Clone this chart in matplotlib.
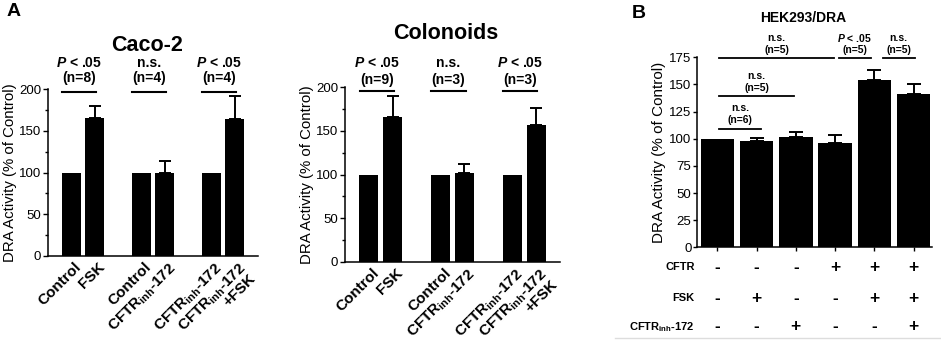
import numpy as np
import matplotlib
matplotlib.use("Agg")
import matplotlib.pyplot as plt
from matplotlib.transforms import ScaledTranslation
from matplotlib.lines import Line2D

plt.rcParams['font.family'] = ['Liberation Sans', 'DejaVu Sans']
plt.rcParams['mathtext.fontset'] = 'custom'
plt.rcParams['mathtext.rm'] = 'Liberation Sans'
plt.rcParams['mathtext.bf'] = 'Liberation Sans:bold'
plt.rcParams['mathtext.bfit'] = 'Liberation Sans:italic:bold'

# panel A data
inh = r"CFTR$_{\mathregular{inh}}$-172"
a_labels = ["Control", "FSK", "Control", inh, inh, inh + "\n+FSK"]
a_pos = [0, 1, 3, 4, 6, 7]

caco_mean = [100, 165, 100, 100, 100, 164]
caco_sem = [0, 15, 0, 14, 0, 28]
caco_n = ["(n=8)", "(n=4)", "(n=4)"]
caco_p = [r"$\mathbfit{P}$ < .05", "n.s.", r"$\mathbfit{P}$ < .05"]

colon_mean = [100, 166, 100, 102, 100, 157]
colon_sem = [0, 24, 0, 10, 0, 19]
colon_n = ["(n=9)", "(n=3)", "(n=3)"]
colon_p = [r"$\mathbfit{P}$ < .05", "n.s.", r"$\mathbfit{P}$ < .05"]

# panel B data
hek_mean = [100, 98, 102, 96, 154, 141]
hek_sem = [0, 3, 4, 7, 9, 9]
row_names = ["CFTR", "FSK", inh]
row_cftr = ["-", "-", "-", "+", "+", "+"]
row_fsk = ["-", "+", "-", "-", "+", "+"]
row_inh = ["-", "-", "+", "-", "-", "+"]
# significance brackets: x start, x end, y line, top text, bottom text
hek_sig = [
    (0.05, 2.97, 174, "n.s.", "(n=5)"),
    (3.09, 3.91, 174, r"$\mathbfit{P}$ < .05", "(n=5)"),
    (4.21, 5.03, 174, "n.s.", "(n=5)"),
    (0.05, 1.95, 139, "n.s.", "(n=5)"),
    (0.05, 1.10, 109, "n.s.", "(n=6)"),
]

fig = plt.figure(figsize=(9.41, 3.45), dpi=100)


def draw_a(ax, mean, sem, p_txt, n_txt, title, title_y, p_y, n_y, bw):
    ax.bar(a_pos, mean, width=bw, color='black', zorder=2)
    x_e = [p for p, s in zip(a_pos, sem) if s > 0]
    m_e = [m for m, s in zip(mean, sem) if s > 0]
    s_e = [s for s in sem if s > 0]
    ax.errorbar(x_e, m_e, yerr=[np.zeros(len(s_e)), s_e], fmt='none',
                ecolor='black', elinewidth=1.4, capsize=4.5, capthick=1.4, zorder=1)
    ax.set_ylim(0, 200)
    ax.set_xlim(-1.0, 8.0)
    ax.set_yticks([0, 50, 100, 150, 200])
    ax.set_yticks([25, 75, 125, 175], minor=True)
    ax.tick_params(axis='y', which='major', labelsize=9.5, length=3.5, width=1, pad=1.5)
    ax.tick_params(axis='y', which='minor', length=2, width=1)
    ax.set_xticks(a_pos)
    ax.set_xticklabels(a_labels, rotation=45, ha='right', va='top',
                       rotation_mode='anchor', fontsize=11, fontweight='bold',
                       linespacing=0.9)
    ax.tick_params(axis='x', length=0, pad=3)
    off = ScaledTranslation(3 / 100, 0, fig.dpi_scale_trans)
    for lbl in ax.get_xticklabels():
        lbl.set_transform(lbl.get_transform() + off)
    for sp in ['top', 'right']:
        ax.spines[sp].set_visible(False)
    for sp in ['left', 'bottom']:
        ax.spines[sp].set_linewidth(1.1)
    ax.set_ylabel("DRA Activity (% of Control)", fontsize=10.8, labelpad=1)
    for i in range(3):
        x0 = a_pos[2 * i] - 0.38
        x1 = a_pos[2 * i + 1] + 0.05
        ax.plot([x0, x1], [196, 196], color='black', lw=1.5, clip_on=False)
        xc = (x0 + x1) / 2
        ax.text(xc, p_y, p_txt[i], ha='center', va='center', fontsize=10,
                fontweight='bold')
        ax.text(xc, n_y, n_txt[i], ha='center', va='center', fontsize=10,
                fontweight='bold')
    ax.text(0.47, title_y, title, transform=ax.transAxes, ha='center',
            va='center', fontsize=15.5, fontweight='bold')


ax1 = fig.add_axes([0.0510, 0.258, 0.2232, 0.484])
draw_a(ax1, caco_mean, caco_sem, caco_p, caco_n, "Caco-2", 1.263, 231, 213, 0.83)

ax2 = fig.add_axes([0.3666, 0.2406, 0.2286, 0.507])
draw_a(ax2, colon_mean, colon_sem, colon_p, colon_n, "Colonoids", 1.309, 227, 208, 0.8)

# panel B
ax3 = fig.add_axes([0.7407, 0.2832, 0.2497, 0.5507])
xb = np.arange(len(hek_mean))
ax3.bar(xb, hek_mean, width=0.85, color='black', zorder=2)
x_e = [x for x, s in zip(xb, hek_sem) if s > 0]
m_e = [m for m, s in zip(hek_mean, hek_sem) if s > 0]
s_e = [s for s in hek_sem if s > 0]
ax3.errorbar(x_e, m_e, yerr=[np.zeros(len(s_e)), s_e], fmt='none',
             ecolor='black', elinewidth=1.4, capsize=5, capthick=1.4, zorder=1)
ax3.set_ylim(0, 175)
ax3.set_xlim(-0.52, 5.47)
ax3.set_yticks([0, 25, 50, 75, 100, 125, 150, 175])
ax3.tick_params(axis='y', labelsize=9.5, length=3, width=1, pad=1)
ax3.set_xticks(xb)
ax3.set_xticklabels([])
ax3.tick_params(axis='x', length=3, width=1, direction='out')
for sp in ['top', 'right']:
    ax3.spines[sp].set_visible(False)
for sp in ['left', 'bottom']:
    ax3.spines[sp].set_linewidth(1.1)
ax3.set_ylabel("DRA Activity (% of Control)", fontsize=11, labelpad=2)
ax3.text(0.451, 1.207, "HEK293/DRA", transform=ax3.transAxes, ha='center',
         va='center', fontsize=10, fontweight='bold')

for x0, x1, y, top, bot in hek_sig:
    ax3.plot([x0, x1], [y, y], color='black', lw=1.3, clip_on=False)
    xc = (x0 + x1) / 2
    ax3.text(xc, y + 19, top, ha='center', va='center', fontsize=7.5,
             fontweight='bold')
    ax3.text(xc, y + 8, bot, ha='center', va='center', fontsize=7.5,
             fontweight='bold')

tr = ax3.get_xaxis_transform()
row_y = [-0.104, -0.267, -0.419]
for name, row, yy in zip(row_names, [row_cftr, row_fsk, row_inh], row_y):
    ax3.text(-0.58, yy, name, transform=tr, ha='right', va='center',
             fontsize=8, fontweight='bold')
    for x, s in zip(xb, row):
        ax3.text(x, yy, s, transform=tr, ha='center', va='center',
                 fontsize=12.5, fontweight='bold')

# panel letters and faint frame line
fig.text(14 / 941, 1 - 11 / 345, "A", ha='center', va='center',
         fontsize=14, fontweight='bold')
fig.text(639 / 941, 1 - 13 / 345, "B", ha='center', va='center',
         fontsize=14, fontweight='bold')
fig.add_artist(Line2D([615 / 941, 1], [1 - 338 / 345] * 2, color='#dddddd', lw=1))

fig.savefig("out.png", dpi=100)
